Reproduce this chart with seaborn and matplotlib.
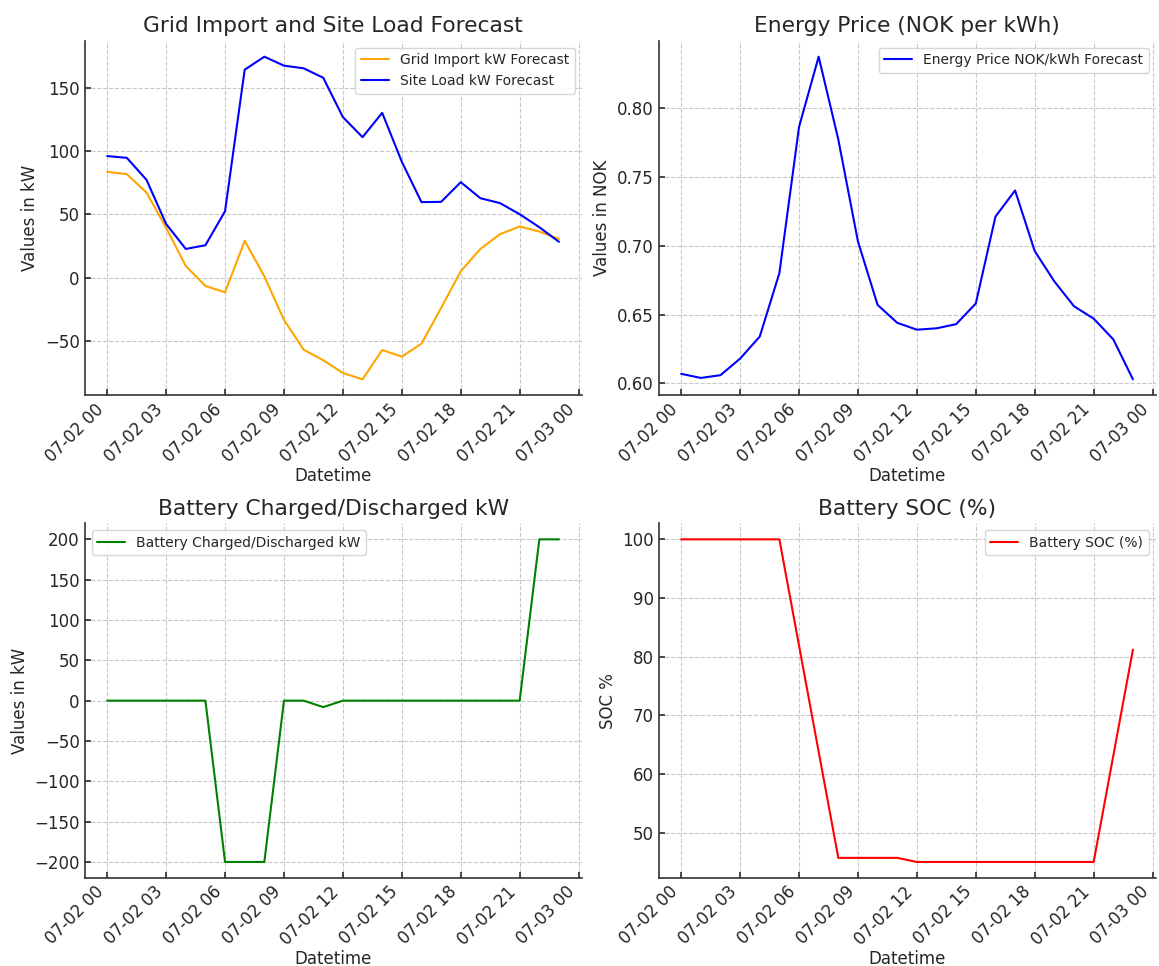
import matplotlib
matplotlib.use("Agg")
import matplotlib.pyplot as plt
import matplotlib.dates as mdates
import pandas as pd
import seaborn as sns

# Hourly forecast horizon
timestamps = pd.date_range("2024-07-02 00:00", periods=24, freq="h")

grid_import_kw = [83.8, 82.0, 67.4, 39.4, 9.2, -6.7, -11.7, 29.1, 1.0, -33.6, -57.2, -65.6,
                  -75.7, -80.7, -57.5, -62.7, -52.4, -24.1, 5.0, 22.7, 34.4, 40.5, 36.5, 30.6]
site_load_kw = [96.3, 94.9, 77.5, 42.5, 22.7, 25.6, 52.6, 164.8, 175.1, 168.0, 165.9, 158.4,
                127.2, 111.3, 130.6, 91.8, 59.8, 60.0, 75.6, 62.9, 59.0, 50.2, 39.9, 28.3]
price_nok_kwh = [0.607, 0.604, 0.606, 0.618, 0.634, 0.680, 0.786, 0.837, 0.777, 0.703, 0.657, 0.644,
                 0.639, 0.640, 0.643, 0.658, 0.721, 0.740, 0.696, 0.674, 0.656, 0.647, 0.632, 0.603]
battery_kw = [0, 0, 0, 0, 0, 0, -200, -200, -200, 0, 0, -8,
              0, 0, 0, 0, 0, 0, 0, 0, 0, 0, 200, 200]
battery_soc = [100, 100, 100, 100, 100, 100, 81.9, 63.8, 45.7, 45.7, 45.7, 45.7,
               45.0, 45.0, 45.0, 45.0, 45.0, 45.0, 45.0, 45.0, 45.0, 45.0, 63.1, 81.2]

df = pd.DataFrame({
    "Datetime": timestamps,
    "grid": grid_import_kw,
    "load": site_load_kw,
    "price": price_nok_kwh,
    "battery": battery_kw,
    "soc": battery_soc,
})

sns.set_theme(style="whitegrid")
plt.rcParams.update({
    "font.family": ["DejaVu Sans"],
    "axes.edgecolor": "#333333",
    "axes.linewidth": 1.2,
    "axes.spines.top": False,
    "axes.spines.right": False,
    "grid.linestyle": "--",
    "grid.color": "#c8c8c8",
    "grid.linewidth": 0.8,
    "xtick.direction": "in",
    "ytick.direction": "in",
    "xtick.bottom": True,
    "ytick.left": True,
    "xtick.major.size": 4,
    "ytick.major.size": 4,
    "xtick.color": "#333333",
    "ytick.color": "#333333",
    "xtick.labelcolor": "#262626",
    "ytick.labelcolor": "#262626",
    "xtick.labelsize": 12,
    "ytick.labelsize": 12,
    "axes.labelsize": 12,
    "axes.titlesize": 15.7,
    "axes.labelcolor": "#262626",
    "axes.titlecolor": "#262626",
    "legend.fontsize": 10,
    "legend.edgecolor": "#cccccc",
})

fig, axes = plt.subplots(2, 2, figsize=(11.59, 9.66), dpi=100)
fig.subplots_adjust(left=0.073, right=0.997, top=0.958, bottom=0.091, wspace=0.155, hspace=0.36)

ax = axes[0, 0]
sns.lineplot(data=df, x="Datetime", y="grid", ax=ax, color="orange", linewidth=1.5,
             label="Grid Import kW Forecast")
sns.lineplot(data=df, x="Datetime", y="load", ax=ax, color="blue", linewidth=1.5,
             label="Site Load kW Forecast")
ax.set_title("Grid Import and Site Load Forecast")
ax.set_ylabel("Values in kW")
ax.legend(loc="upper right")

ax = axes[0, 1]
sns.lineplot(data=df, x="Datetime", y="price", ax=ax, color="blue", linewidth=1.5,
             label="Energy Price NOK/kWh Forecast")
ax.set_title("Energy Price (NOK per kWh)")
ax.set_ylabel("Values in NOK")
ax.legend(loc="upper right")

ax = axes[1, 0]
sns.lineplot(data=df, x="Datetime", y="battery", ax=ax, color="green", linewidth=1.5,
             label="Battery Charged/Discharged kW")
ax.set_title("Battery Charged/Discharged kW")
ax.set_ylabel("Values in kW")
ax.legend(loc="upper left")

ax = axes[1, 1]
sns.lineplot(data=df, x="Datetime", y="soc", ax=ax, color="red", linewidth=1.5,
             label="Battery SOC (%)")
ax.set_title("Battery SOC (%)")
ax.set_ylabel("SOC %")
ax.legend(loc="upper right")

for ax in axes.flat:
    ax.set_xlabel("Datetime", labelpad=1)
    ax.xaxis.set_major_locator(mdates.HourLocator(interval=3))
    ax.xaxis.set_major_formatter(mdates.DateFormatter("%m-%d %H"))
    for lbl in ax.get_xticklabels():
        lbl.set_rotation(45)
        lbl.set_ha("right")

fig.savefig("out.png", dpi=100)
